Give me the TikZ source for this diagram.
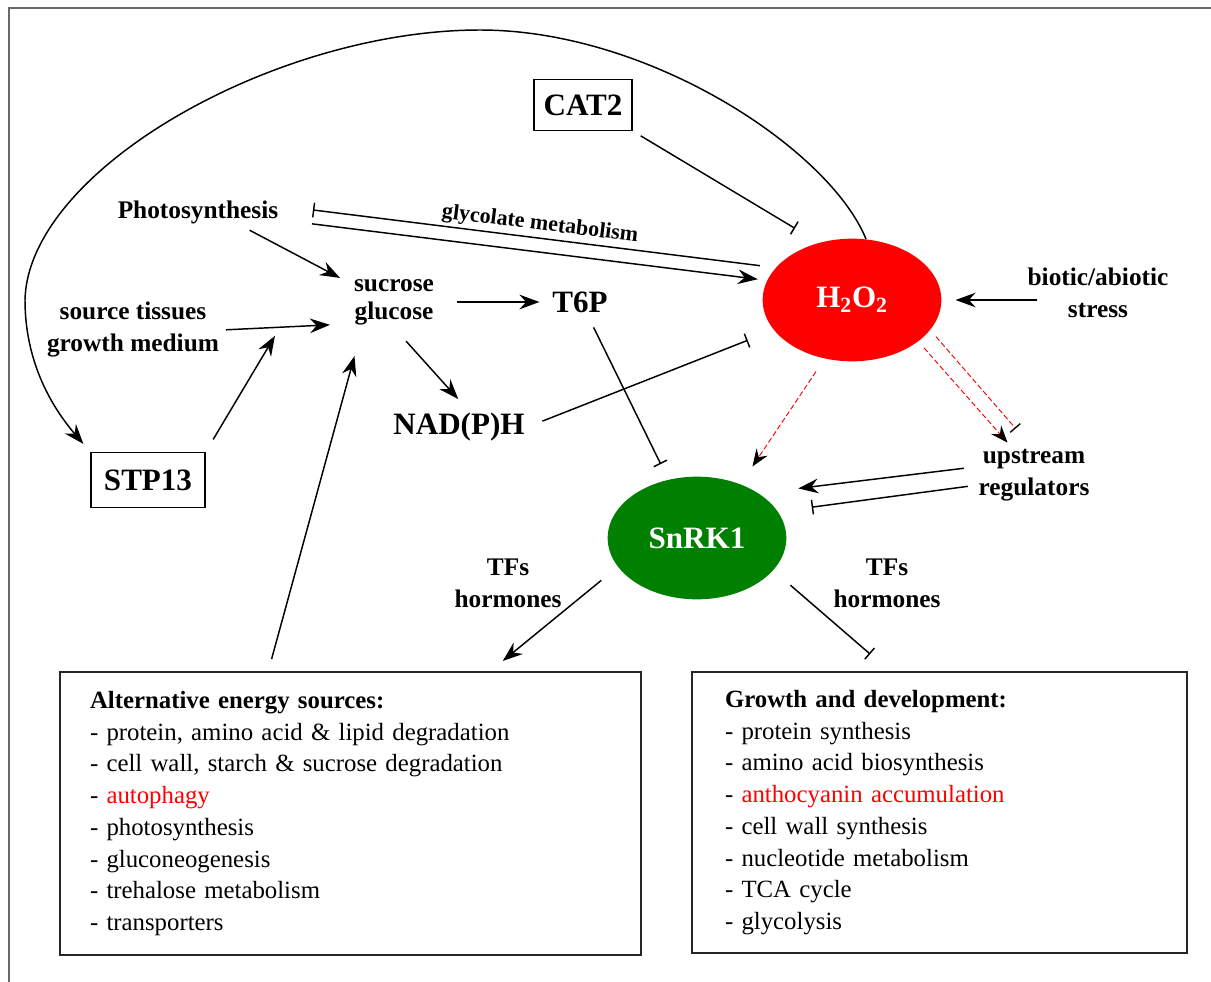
\documentclass[tikz,border=0pt]{standalone}
\usepackage{fontspec}
\setmainfont{Liberation Serif}
\usepackage{xcolor}
\usetikzlibrary{positioning,arrows.meta,shapes.geometric,calc}
\definecolor{ros}{RGB}{255,0,0}
\definecolor{kinase}{RGB}{0,128,0}
\definecolor{framegray}{RGB}{105,105,105}
\tikzset{
  every node/.style={font=\fontsize{19}{24}\selectfont\bfseries, inner sep=2pt, align=center},
  big/.style={font=\fontsize{23.3}{28}\selectfont\bfseries},
  gene/.style={rectangle, draw, line width=1pt, big, inner sep=0pt},
  hub/.style={ellipse, big, text=white, inner sep=0pt, minimum width=134pt, minimum height=92pt},
  listbox/.style={rectangle, draw=black!85, line width=1.4pt, align=left, font=\fontsize{18.6}{23.8}\selectfont},
  arrow/.style={-{Stealth[length=15pt,width=11pt,inset=5pt]}, line width=1.1pt},
  block/.style={-{Bar[width=11pt]}, line width=1.1pt},
  rosarrow/.style={draw=ros, line width=0.7pt, dash pattern=on 4pt off 2pt,
    -{Stealth[length=13pt,width=10pt,inset=4.5pt,color=black]}},
  rosblock/.style={draw=ros, line width=0.7pt, dash pattern=on 4pt off 2pt,
    -{Bar[width=10pt,line width=1pt,color=black]}},
}

\begin{document}
\begin{tikzpicture}[x=0.75pt, y=-0.75pt]
  \useasboundingbox (0,0) rectangle (1211,982);
  \draw[framegray, line width=1.5pt] (9,982) -- (9,8) -- (1211,8);

  % ROS and kinase hubs
  \node[hub, fill=ros] (h2o2) at (852,300) {H\textsubscript{2}O\textsubscript{2}};
  \node[hub, fill=kinase] (snrk1) at (697,538) {SnRK1};

  % boxed genes
  \node[gene, minimum width=73.5pt, minimum height=38pt] (cat2) at (583,105) {CAT2};
  \node[gene, minimum width=85.5pt, minimum height=41pt] (stp13) at (148,480) {STP13};

  % sugars, signals and inputs
  \node (photo) at (198,212) {Photosynthesis};
  \node[font=\fontsize{19}{21}\selectfont\bfseries] (sugar) at (394,302) {sucrose\\glucose};
  \node (source) at (133,330) {source tissues\\growth medium};
  \node[big] (t6p) at (580,302) {T6P};
  \node[big] (nadph) at (459,427) {NAD(P)H};
  \node (stress) at (1098,293) {biotic/abiotic\\stress};
  \node (upstream) at (1034,475) {upstream\\regulators};
  \node (tfleft) at (508,583) {TFs\\hormones};
  \node (tfright) at (887,583) {TFs\\hormones};

  % downstream responses
  \node[listbox, minimum width=435.75pt, minimum height=212.25pt, text width=390.75pt] (altbox) at (350.5,813.5)
    {\textbf{Alternative energy sources:}\\
     - protein, amino acid \& lipid degradation\\
     - cell wall, starch \& sucrose degradation\\
     - \textcolor{ros}{autophagy}\\
     - photosynthesis\\
     - gluconeogenesis\\
     - trehalose metabolism\\
     - transporters};
  \node[listbox, minimum width=371.25pt, minimum height=210.75pt, text width=321.75pt] (growbox) at (939.5,812.5)
    {\textbf{Growth and development:}\\
     - protein synthesis\\
     - amino acid biosynthesis\\
     - \textcolor{ros}{anthocyanin accumulation}\\
     - cell wall synthesis\\
     - nucleotide metabolism\\
     - TCA cycle\\
     - glycolysis};

  % feedback from H2O2 to STP13
  \draw[arrow, shorten >=8pt] (h2o2.77) .. controls (830,150) and (650,30) .. (480,30)
    .. controls (275,30) and (28,170) .. (25,300)
    .. controls (25,360) and (50,405) .. (stp13.north west);

  % sugar supply
  \draw[arrow, shorten <=6pt, shorten >=9.5pt] (photo.-18) -- (sugar.157);
  \draw[arrow, shorten <=3pt, shorten >=16pt] (source.east) -- (sugar.207)
    coordinate[pos=0.45] (uptake);
  \draw[arrow, shorten <=11pt, shorten >=7.5pt] (stp13.north east) -- (uptake);
  \draw[arrow, shorten <=9.3pt, shorten >=22pt] ($(altbox.north west)!0.359!(altbox.north east)$) -- (sugar.219);
  \draw[arrow, shorten <=15pt, shorten >=7.5pt] (sugar.east) -- (t6p.west);
  \draw[arrow, shorten <=13.5pt, shorten >=11pt] (sugar.south) -- (nadph.62);

  % photorespiration
  \draw[{Bar[width=11pt]}-, line width=1.1pt, shorten <=24pt, shorten >=12pt]
    ([yshift=4.5pt]photo.east) -- (h2o2.157)
    node[pos=0.52, above, sloped, font=\fontsize{16.5}{20}\selectfont\bfseries] {glycolate metabolism};
  \draw[arrow, shorten <=23.3pt, shorten >=7pt] ([yshift=-6pt]photo.east) -- (h2o2.167);

  % control of H2O2
  \draw[block, shorten <=7pt, shorten >=21pt] (cat2.south east) -- (h2o2.120);
  \draw[block, shorten <=12pt, shorten >=21pt] (nadph.east) -- (h2o2.201);
  \draw[arrow, shorten <=-9.5pt, shorten >=10.5pt] (stress.west |- h2o2.east) -- (h2o2.east);

  % SnRK1 regulation
  \draw[block, shorten <=10pt, shorten >=13pt] (t6p.-60) -- (snrk1);
  \draw[rosarrow, shorten <=11.7pt, shorten >=16pt] (h2o2.245) -- (snrk1.51);
  \draw[rosarrow, shorten <=6.5pt, shorten >=3.5pt] (h2o2.-32) -- (upstream.129);
  \draw[rosblock, shorten <=6.5pt, shorten >=17.5pt] (h2o2.-21) -- (upstream.96);
  \draw[arrow, shorten <=9pt, shorten >=30pt] (upstream.172) -- (snrk1.36);
  \draw[block, shorten <=6pt, shorten >=25.5pt] (upstream.190) -- (snrk1.18);

  % SnRK1 outputs
  \draw[arrow, shorten <=16pt, shorten >=12pt] (snrk1.-160) -- ($(altbox.north west)!0.74!(altbox.north east)$);
  \draw[block, shorten <=17pt, shorten >=19.5pt] (snrk1.-23) -- ($(growbox.north west)!0.4!(growbox.north east)$);
\end{tikzpicture}
\end{document}
